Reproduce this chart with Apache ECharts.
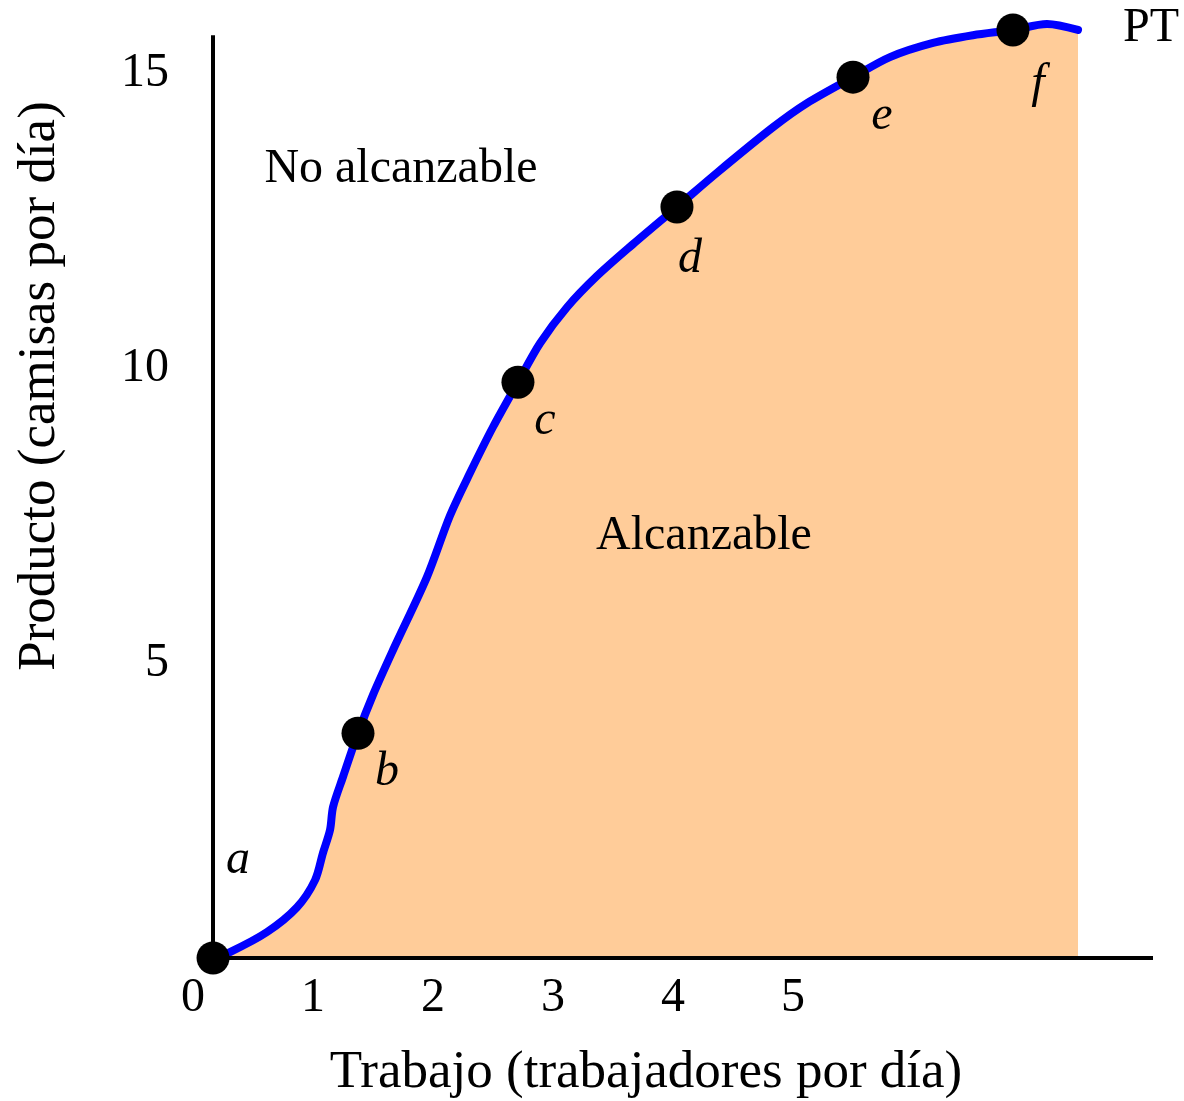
<!DOCTYPE html>
<html>
<head>
<meta charset="utf-8">
<script src="https://cdn.jsdelivr.net/npm/echarts@6/dist/echarts.min.js"></script>
<style>
  html, body { margin: 0; padding: 0; background: #fff; }
  #chart { width: 1184px; height: 1101px; }
</style>
</head>
<body>
<div id="chart"></div>
<script>
// production curve (trabajadores por día -> camisas por día)
const curveLabour = [0.167, 0.308, 0.617, 0.867, 1.017, 1.083, 1.142, 1.167, 1.25, 1.375,
  1.5, 1.667, 1.95, 2.142, 2.308, 2.5, 2.708, 2.892, 3.117, 3.367, 3.667, 4.033,
  4.367, 4.833, 5.117, 5.5, 5.808, 6.167, 6.5, 6.833, 7.117, 7.375];
const curveOutput = [0, 0.10, 0.44, 0.86, 1.32, 1.78, 2.17, 2.56, 3.07, 3.81,
  4.46, 5.22, 6.46, 7.50, 8.22, 9.0, 9.76, 10.42, 11.03, 11.56, 12.10, 12.73,
  13.31, 14.08, 14.49, 14.93, 15.27, 15.51, 15.64, 15.73, 15.83, 15.73];

// marked points a..f
const pointNames = ['a', 'b', 'c', 'd', 'e', 'f'];
const pointLabour = [0.167, 1.375, 2.708, 4.033, 5.5, 6.833];
const pointOutput = [0, 3.81, 9.76, 12.73, 14.93, 15.73];

// text notes placed in data space
const noteText = ['No alcanzable', 'Alcanzable', 'PT'];
const noteLabour = [1.733, 4.258, 7.983];
const noteOutput = [13.37, 7.14, 15.75];

const xTicks = [0, 1, 2, 3, 4, 5];
const yTicks = [5, 10, 15];

// axis lines as drawn in the figure
const axisX = 0.167;
const axisXEnd = 8;
const axisYEnd = 15.64;

const FONT = "'Liberation Serif', 'Times New Roman', serif";

// pixel offsets of the point letters from their dots
const letterOffsets = [[25, -98], [29, 39], [27, 39], [13, 52], [29, 39], [25, 54]];

const chart = echarts.init(document.getElementById('chart'), null, { renderer: 'canvas' });

const option = {
  backgroundColor: '#ffffff',
  animation: false,
  grid: { left: 193, right: 31, top: 14, bottom: 143 },
  xAxis: {
    type: 'value',
    min: 0,
    max: 8,
    interval: 1,
    axisLine: { show: false },
    axisTick: { show: false },
    splitLine: { show: false },
    axisLabel: {
      margin: 16,
      color: '#000',
      fontFamily: FONT,
      fontSize: 48,
      formatter: (v) => (xTicks.includes(v) ? String(v) : '')
    }
  },
  yAxis: {
    type: 'value',
    min: 0,
    max: 16,
    interval: 5,
    axisLine: { show: false },
    axisTick: { show: false },
    splitLine: { show: false },
    axisLabel: {
      margin: 24,
      color: '#000',
      fontFamily: FONT,
      fontSize: 48,
      formatter: (v) => (yTicks.includes(v) ? String(v) : '')
    }
  },
  graphic: [
    {
      type: 'text',
      x: 40,
      y: 386,
      rotation: Math.PI / 2,
      style: {
        text: 'Producto (camisas por día)',
        font: '53px ' + FONT,
        fill: '#000',
        align: 'center',
        verticalAlign: 'middle'
      }
    },
    {
      type: 'text',
      x: 646,
      y: 1073,
      style: {
        text: 'Trabajo (trabajadores por día)',
        font: '53px ' + FONT,
        fill: '#000',
        align: 'center',
        verticalAlign: 'middle'
      }
    }
  ],
  series: [
    {
      type: 'line',
      data: curveLabour.map((x, i) => [x, curveOutput[i]]),
      smooth: 0.3,
      symbol: 'none',
      lineStyle: { color: '#0000ff', width: 8, cap: 'round', join: 'round' },
      areaStyle: { color: '#ffcc99', opacity: 1 },
      z: 2,
      markLine: {
        silent: true,
        symbol: ['none', 'none'],
        label: { show: false },
        lineStyle: { color: '#000', width: 4, type: 'solid', opacity: 1 },
        data: [
          [{ coord: [axisX, 0] }, { coord: [axisXEnd, 0] }],
          [{ coord: [axisX, 0] }, { coord: [axisX, axisYEnd] }]
        ]
      }
    },
    {
      type: 'scatter',
      data: pointLabour.map((x, i) => ({
        value: [x, pointOutput[i]],
        name: pointNames[i],
        label: { offset: letterOffsets[i] }
      })),
      symbol: 'circle',
      symbolSize: 33,
      itemStyle: { color: '#000', opacity: 1 },
      label: {
        show: true,
        position: 'inside',
        formatter: '{b}',
        color: '#000',
        opacity: 1,
        fontFamily: FONT,
        fontStyle: 'italic',
        fontSize: 48
      },
      z: 5
    },
    {
      type: 'scatter',
      silent: true,
      data: noteLabour.map((x, i) => ({ value: [x, noteOutput[i]], name: noteText[i] })),
      symbolSize: 1,
      itemStyle: { color: '#fff', opacity: 1, borderWidth: 0 },
      label: {
        show: true,
        position: 'inside',
        formatter: '{b}',
        color: '#000',
        opacity: 1,
        fontFamily: FONT,
        fontSize: 48
      },
      z: 6
    }
  ]
};

chart.setOption(option);
</script>
</body>
</html>
